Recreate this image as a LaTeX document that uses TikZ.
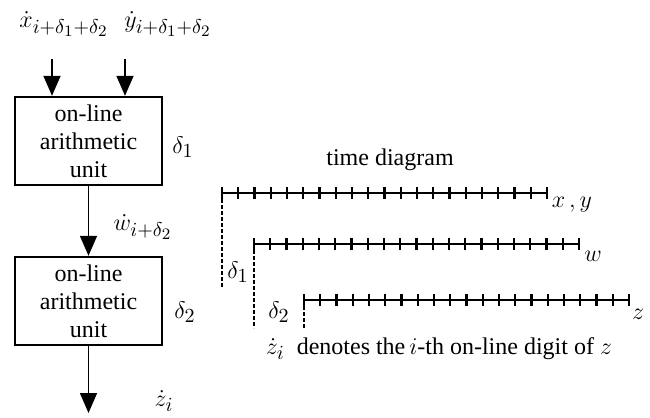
\documentclass[tikz,border=0pt]{standalone}
\usepackage{fontspec}
\setmainfont{Liberation Serif}
\usepackage{amsmath,amssymb}
\DeclareMathSizes{12}{13}{10}{8}
\usepackage{tikz}
\usetikzlibrary{arrows.meta, positioning, calc}

\begin{document}
\begin{tikzpicture}[x=0.5pt, y=-0.5pt,
    font=\fontsize{12}{14}\selectfont,
    unitbox/.style={draw, line width=1.2pt, minimum width=73.5pt, minimum height=44pt, align=center, inner sep=0pt},
    flow/.style={-{Triangle[length=10pt, width=8.5pt]}, line width=0.8pt},
    timeline/.style={line width=1.2pt},
    tick/.style={line width=1.1pt},
    guide/.style={line width=0.8pt, dash pattern=on 2pt off 1pt}]
  \useasboundingbox (0,0) rectangle (650,418);

  % 运算单元
  \node[unitbox] (unitA) at (88.5,141) {on-line\\arithmetic\\unit};
  \node[unitbox] (unitB) at (88.5,301) {on-line\\arithmetic\\unit};
  \node (dA) at (183,147) {$\delta_1$};
  \node (dB) at (185,312) {$\delta_2$};

  % 输入
  \coordinate (xin) at (52,59);
  \coordinate (yin) at (125,59);
  \node[inner sep=0pt] (xlab) at (64,24) {$\dot{x}_{i+\delta_1+\delta_2}$};
  \node[inner sep=0pt] (ylab) at (168,24) {$\dot{y}_{i+\delta_1+\delta_2}$};
  \draw[flow] (xin) -- (unitA.north -| xin);
  \draw[flow] (yin) -- (unitA.north -| yin);

  % 中间结果与输出
  \draw[flow] (unitA) -- (unitB);
  \node[inner sep=0pt] (wlab) at (143,227) {$\dot{w}_{i+\delta_2}$};
  \coordinate (zout) at (88.5,413);
  \draw[flow] (unitB) -- (zout);
  \node (zlab) at (164,401) {$\dot{z}_i$};

  % 时间图
  \node (ttl) at (390,160) {time diagram};
  \foreach \name/\xs/\ys in {xy/222/193, w/254/244, z/304/300} {
    \coordinate (\name s) at (\xs,\ys);
    \coordinate (\name e) at (\xs+325,\ys);
    \draw[timeline] (\name s) -- (\name e);
    \foreach \k in {0,...,20}
      \draw[tick] ($(\name s)+(\k*16.25,0)$) ++(0,-6) -- ++(0,12);
  }
  \draw[guide] (xys) -- ++(0,95);
  \draw[guide] (ws) -- ++(0,84);
  \draw[guide] (zs) -- ++(0,28);
  \node (tdA) at (238,272) {$\delta_1$};
  \node (tdB) at (279,312) {$\delta_2$};
  \node (lxy) at (572,205) {$x\,,y$};
  \node (lw) at (593,256) {$w$};
  \node (lz) at (638,314) {$z$};

  % 说明
  \node (note) at (439,349) {$\dot{z}_i$\ \ denotes the\,$i$-th on-line digit of $z$};
\end{tikzpicture}
\end{document}
